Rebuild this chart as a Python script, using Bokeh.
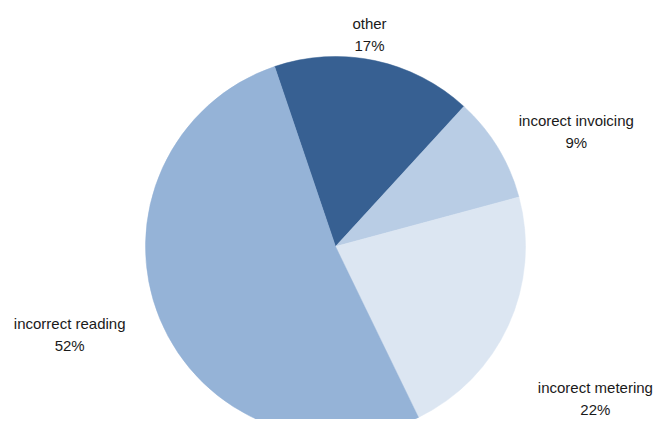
import math
from bokeh.plotting import figure
from bokeh.models import ColumnDataSource, Range1d
from bokeh.core.properties import value
from bokeh.embed import file_html
from bokeh.resources import INLINE

# ---- data ----
categories = ["other", "incorect invoicing", "incorect metering", "incorrect reading"]
shares = [17, 9, 22, 52]
colors = ["#376092", "#B9CDE5", "#DCE6F2", "#95B3D7"]

# ---- layout / style ----
W, H = 654, 419
cx, cy, R = 335, 173, 190
first_slice_deg = -18.7              # compass angle where the first slice starts (clockwise from top)
label_rho = [215, 267, 301, 280]     # label distance from centre (px)
label_nudge = [-2.8, 5.7, 5.8, 4.0]  # angular nudge of labels (deg)

total = float(sum(shares))
starts, ends, lx, ly, texts = [], [], [], [], []
cum = 0.0
for i, (c, s) in enumerate(zip(categories, shares)):
    a0 = first_slice_deg + 360.0 * cum / total
    a1 = first_slice_deg + 360.0 * (cum + s) / total
    starts.append(math.radians(90 - a0))
    ends.append(math.radians(90 - a1))
    mid = (a0 + a1) / 2 + label_nudge[i]
    lx.append(cx + label_rho[i] * math.sin(math.radians(mid)))
    ly.append(cy + label_rho[i] * math.cos(math.radians(mid)))
    texts.append(f"{c}\n{round(100 * s / total)}%")
    cum += s

src = ColumnDataSource(dict(start=starts, end=ends, color=colors,
                            lx=lx, ly=ly, text=texts,
                            x=[cx] * len(shares), y=[cy] * len(shares)))

p = figure(width=W, height=H, x_range=Range1d(0, W), y_range=Range1d(0, H),
           output_backend="svg", toolbar_location=None, min_border=0)
p.axis.visible = False
p.grid.visible = False
p.outline_line_color = None
p.background_fill_color = "white"
p.border_fill_color = "white"

p.wedge(x="x", y="y", radius=R, start_angle="start", end_angle="end",
        direction="clock", fill_color="color", line_color="color", line_width=0.5,
        source=src)

p.text(x="lx", y="ly", text="text", source=src,
       text_font=value("Liberation Sans"), text_font_size="15px",
       text_color="#1a1a1a", text_align="center", text_baseline="middle",
       text_line_height=1.3)

open("out.html", "w").write(file_html(p, INLINE))
